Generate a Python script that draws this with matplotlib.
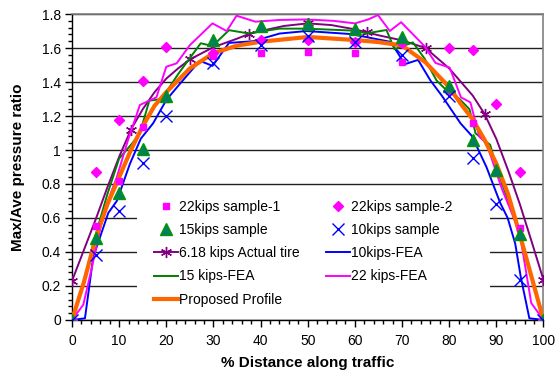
import numpy as np
import matplotlib
matplotlib.use("Agg")
import matplotlib.pyplot as plt
from matplotlib.ticker import MultipleLocator, FuncFormatter
from matplotlib.patches import Rectangle

plt.rcParams['font.family'] = ['Liberation Sans', 'DejaVu Sans']

# sample positions (% distance)
sample_x = [0, 5, 10, 15, 20, 30, 40, 50, 60, 70, 80, 85, 90, 95, 100]
s22_1 = [0, 0.55, 0.82, 1.133, 1.30, 1.555, 1.572, 1.575, 1.572, 1.52, 1.345, 1.157, 0.865, 0.543, 0]
s22_2 = [0, 0.87, 1.176, 1.406, 1.604, 1.57, 1.647, 1.647, 1.637, 1.63, 1.60, 1.588, 1.269, 0.869, 0]
s15 = [0, 0.48, 0.745, 1.005, 1.318, 1.65, 1.73, 1.741, 1.712, 1.663, 1.376, 1.059, 0.882, 0.504, 0]
s10 = [0, 0.382, 0.641, 0.925, 1.2, 1.514, 1.62, 1.67, 1.637, 1.559, 1.318, 0.951, 0.682, 0.235, 0]

# 6.18 kips actual tire
tire_mx = [0, 12.5, 25, 37.5, 50, 62.5, 75, 87.5, 100]
tire_my = [0.23, 1.12, 1.533, 1.682, 1.745, 1.692, 1.60, 1.212, 0.235]
tire_x = [0, 2.5, 5, 7.5, 10, 12.5, 15, 17.5, 20, 22.5, 25, 30, 35, 37.5, 40, 45, 50,
          55, 60, 62.5, 65, 70, 75, 80, 85, 87.5, 90, 92.5, 95, 97.5, 100]
tire_y = [0.23, 0.41, 0.59, 0.78, 0.96, 1.12, 1.24, 1.34, 1.42, 1.48, 1.533, 1.605, 1.655,
          1.682, 1.70, 1.73, 1.745, 1.735, 1.71, 1.692, 1.675, 1.645, 1.60, 1.48, 1.32,
          1.212, 1.065, 0.88, 0.68, 0.46, 0.235]

# FEA results
fea10_x = [0, 2.75, 4.5, 7.7, 9.5, 12.3, 14.6, 17.2, 20, 22.9, 27.1, 29.8, 33.3, 38.4, 44,
           49.7, 59.2, 67.6, 70.6, 73.4, 76, 78.5, 82.4, 84.8, 87.9, 90.8, 92.4, 94, 95.2, 97, 100]
fea10_y = [0, 0.01, 0.37, 0.63, 0.70, 0.92, 1.067, 1.157, 1.294, 1.39, 1.525, 1.495, 1.63, 1.64,
           1.685, 1.70, 1.682, 1.636, 1.505, 1.53, 1.41, 1.317, 1.157, 1.083, 0.90, 0.69, 0.60,
           0.45, 0.25, 0.01, 0]
fea15_x = [0, 2.5, 5, 7.5, 10, 12.8, 14.4, 16.4, 19, 22.6, 27.3, 29.8, 33.3, 37.4, 44, 49.7,
           60, 62.4, 66.7, 68.4, 72.3, 74.8, 77.3, 79.4, 82.2, 84.3, 85.6, 88.7, 90, 92.5, 95, 97.5, 100]
fea15_y = [0, 0.22, 0.5, 0.74, 0.95, 1.04, 1.10, 1.29, 1.30, 1.45, 1.628, 1.612, 1.705, 1.686,
           1.714, 1.714, 1.702, 1.686, 1.706, 1.593, 1.633, 1.537, 1.41, 1.352, 1.30, 1.24, 1.098,
           1.03, 0.90, 0.70, 0.50, 0.25, 0]
fea22_x = [0, 2.4, 4.3, 6.8, 9.5, 11.9, 14.4, 17.9, 20, 22.2, 25, 29.8, 32.8, 34.9, 38.9, 44,
           49.7, 55.4, 60, 62.8, 64.9, 67.4, 69.8, 74.8, 77.1, 80.1, 82.5, 84.5, 86.4, 87.9, 91.2,
           94.9, 97.4, 100]
fea22_y = [0, 0.09, 0.32, 0.64, 0.84, 1.06, 1.265, 1.31, 1.49, 1.51, 1.617, 1.745, 1.70, 1.79,
           1.755, 1.765, 1.768, 1.76, 1.745, 1.768, 1.794, 1.70, 1.752, 1.61, 1.512, 1.485, 1.31,
           1.28, 1.078, 1.04, 0.77, 0.52, 0.10, 0]

# proposed profile
prof_x = [0, 2.5, 5, 7.5, 10, 12.5, 15, 17.5, 20, 25, 30, 35, 40, 50, 60, 65, 70, 75, 80,
          82.5, 85, 87.5, 90, 92.5, 95, 97.5, 100]
prof_y = [0, 0.22, 0.48, 0.68, 0.84, 1.0, 1.14, 1.26, 1.34, 1.48, 1.57, 1.614, 1.637, 1.665,
          1.647, 1.635, 1.615, 1.515, 1.37, 1.27, 1.18, 1.06, 0.92, 0.74, 0.50, 0.25, 0]

fig = plt.figure(figsize=(5.56, 3.76), dpi=100)
ax = fig.add_axes([0.1295, 0.149, 0.848, 0.8137])

mag = '#FF00FF'
h1, = ax.plot(sample_x, s22_1, ls='none', marker='s', ms=5, color=mag, zorder=4)
h2, = ax.plot(sample_x, s22_2, ls='none', marker='D', ms=5, color=mag, zorder=4)
h3, = ax.plot(sample_x, s15, ls='none', marker='^', ms=8, mfc='#007F5F', mec='#009900',
              mew=1, zorder=5)
h4, = ax.plot(sample_x, s10, ls='none', marker='x', ms=8, mew=1, color='#0000FF', zorder=5)
ax.plot(tire_x, tire_y, color='#800080', lw=1.4, zorder=3)
ax.plot(tire_mx, tire_my, ls='none', marker=(6, 2, 0), ms=8, mew=1, color='#800080', zorder=3)
h5, = ax.plot([], [], color='#800080', lw=1.4, marker=(6, 2, 0), ms=8, mew=1)
h6, = ax.plot(fea10_x, fea10_y, color='#0000FF', lw=1.4, zorder=3)
h7, = ax.plot(fea15_x, fea15_y, color='#008000', lw=1.4, zorder=3)
h8, = ax.plot(fea22_x, fea22_y, color=mag, lw=1.4, zorder=3)
h9, = ax.plot(prof_x, prof_y, color='#FF6600', lw=3, zorder=3)

ax.set_xlim(0, 100)
ax.set_ylim(0, 1.8)
ax.xaxis.set_major_locator(MultipleLocator(10))
ax.xaxis.set_minor_locator(MultipleLocator(2))
ax.yaxis.set_major_locator(MultipleLocator(0.2))
ax.yaxis.set_minor_locator(MultipleLocator(0.04))
ax.yaxis.set_major_formatter(FuncFormatter(lambda v, p: '%g' % round(v, 2)))
ax.tick_params(which='major', length=5, width=1, labelsize=10, pad=3, color='black')
ax.tick_params(which='minor', length=3, width=1, color='black')
ax.tick_params(axis='x', pad=5)

ax.set_axisbelow(True)
ax.yaxis.grid(True, color='#202020', lw=1)
for s in ['top', 'right']:
    ax.spines[s].set_color('#808080')
    ax.spines[s].set_linewidth(1.2)
for s in ['left', 'bottom']:
    ax.spines[s].set_color('black')
    ax.spines[s].set_linewidth(1)

ax.add_patch(Rectangle((0.138, 0.02), 0.749, 0.405, transform=ax.transAxes,
                       facecolor='white', edgecolor='none', zorder=1))

ax.set_xlabel('% Distance along traffic', fontsize=11, fontweight='bold', labelpad=6)
ax.set_ylabel('Max/Ave pressure ratio', fontsize=11, fontweight='bold', labelpad=12)

handles = [h1, h3, h5, h7, h9, h2, h4, h6, h8]
labels = ['22kips sample-1', '15kips sample', '6.18 kips Actual tire', '15 kips-FEA',
          'Proposed Profile', '22kips sample-2', '10kips sample', '10kips-FEA', '22 kips-FEA']
ax.legend(handles, labels, ncol=2, loc='upper left', bbox_to_anchor=(0.16, 0.415),
          frameon=False, fontsize=10, borderpad=0, handlelength=1.7, handletextpad=0.1,
          columnspacing=1.9, labelspacing=0.66)

fig.savefig('out.png', dpi=100)
